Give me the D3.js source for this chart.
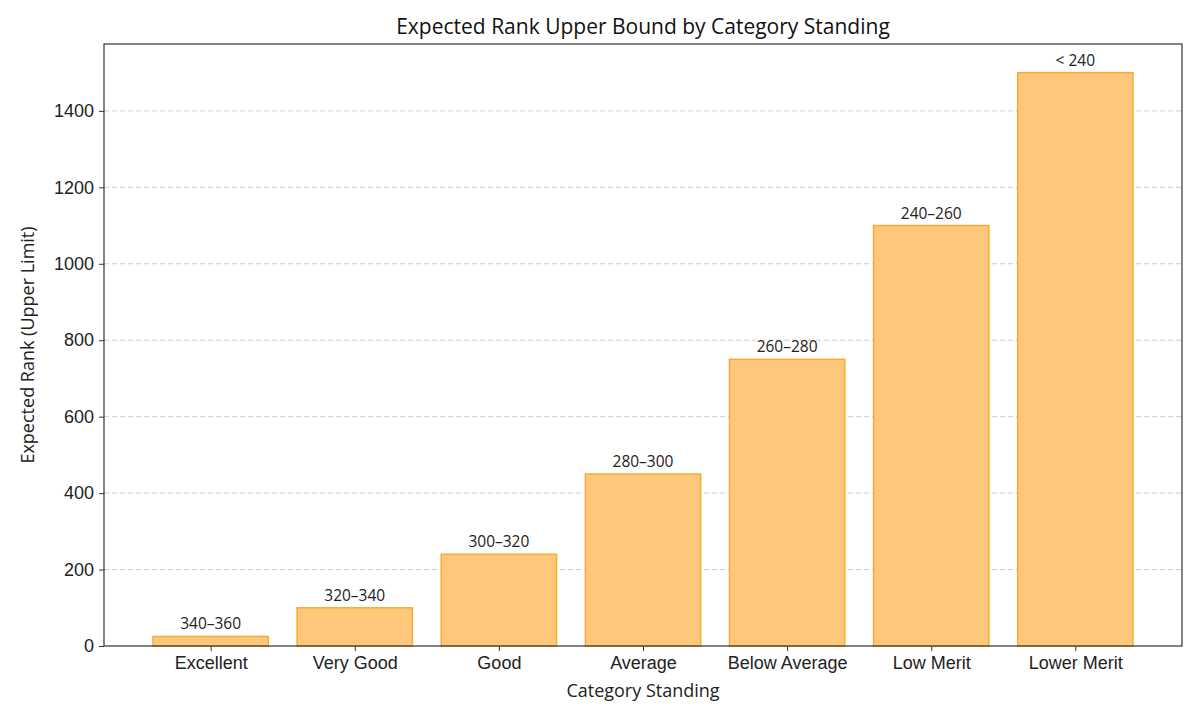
<!DOCTYPE html>
<html>
<head>
<meta charset="utf-8">
<style>
body { margin: 0; background: white; }
svg { font-family: "Open Sans", sans-serif; }
.grid line { stroke: #cccccc; stroke-dasharray: 5,3; }
.axis text { font-size: 18px; fill: #222; }
.axis path, .axis line { stroke: #333; }
</style>
<title>Expected Rank Upper Bound</title>
</head>
<body>
<svg width="1200" height="720"></svg>
<script src="https://d3js.org/d3.v7.min.js"></script>
<script>
var categories = ["Excellent", "Very Good", "Good", "Average", "Below Average", "Low Merit", "Lower Merit"];
var rankUpper = [25, 100, 240, 450, 750, 1100, 1500];
var scoreRanges = ["340\u2013360", "320\u2013340", "300\u2013320", "280\u2013300", "260\u2013280", "240\u2013260", "< 240"];
var yTicks = [0, 200, 400, 600, 800, 1000, 1200, 1400];

var svg = d3.select("svg"),
    margin = {top: 44, right: 18, bottom: 74, left: 104},
    width = +svg.attr("width") - margin.left - margin.right,
    height = +svg.attr("height") - margin.top - margin.bottom;

var x = d3.scaleLinear().domain([-0.74, categories.length - 1 + 0.74]).range([0, width]);
var y = d3.scaleLinear().domain([0, 1575]).range([height, 0]);
var barW = x(0.8) - x(0);

var g = svg.append("g").attr("transform", "translate(" + margin.left + "," + margin.top + ")");

// grid
g.append("g").attr("class", "grid")
  .selectAll("line").data(yTicks.slice(1)).enter().append("line")
    .attr("x1", 0).attr("x2", width)
    .attr("y1", function(d) { return y(d); })
    .attr("y2", function(d) { return y(d); });

// bars
var data = categories.map(function(c, i) { return {cat: c, v: rankUpper[i], lab: scoreRanges[i], i: i}; });

g.selectAll("rect.bar").data(data).enter().append("rect")
  .attr("class", "bar")
  .attr("x", function(d) { return x(d.i) - barW / 2; })
  .attr("width", barW)
  .attr("y", function(d) { return y(d.v); })
  .attr("height", function(d) { return y(0) - y(d.v); })
  .attr("fill", "#fdc87c")
  .attr("stroke", "#fbaa2e")
  .attr("stroke-width", 1.5);

g.selectAll("text.lab").data(data).enter().append("text")
  .attr("class", "lab")
  .attr("x", function(d) { return x(d.i); })
  .attr("y", function(d) { return y(d.v) - 7; })
  .attr("text-anchor", "middle")
  .attr("font-size", 15.5)
  .attr("fill", "#222")
  .text(function(d) { return d.lab; });

// axes
g.append("g").attr("class", "axis")
  .attr("transform", "translate(0," + height + ")")
  .call(d3.axisBottom(x).tickValues(d3.range(categories.length))
        .tickFormat(function(i) { return categories[i]; }).tickSize(5).tickPadding(5))
  .call(function(s) { s.select(".domain").remove(); });

g.append("g").attr("class", "axis")
  .call(d3.axisLeft(y).tickValues(yTicks).tickFormat(d3.format("d")).tickSize(5).tickPadding(5))
  .call(function(s) { s.select(".domain").remove(); });

// frame
g.append("rect").attr("width", width).attr("height", height)
  .attr("fill", "none").attr("stroke", "#333").attr("stroke-width", 1.2);

// labels
svg.append("text")
  .attr("x", margin.left + width / 2).attr("y", 34)
  .attr("text-anchor", "middle").attr("font-size", 21).attr("fill", "#111")
  .text("Expected Rank Upper Bound by Category Standing");

svg.append("text")
  .attr("x", margin.left + width / 2).attr("y", 697)
  .attr("text-anchor", "middle").attr("font-size", 18).attr("fill", "#222")
  .text("Category Standing");

svg.append("text")
  .attr("transform", "translate(34," + (margin.top + height / 2) + ") rotate(-90)")
  .attr("text-anchor", "middle").attr("font-size", 18).attr("fill", "#222")
  .text("Expected Rank (Upper Limit)");
</script>
</body>
</html>
